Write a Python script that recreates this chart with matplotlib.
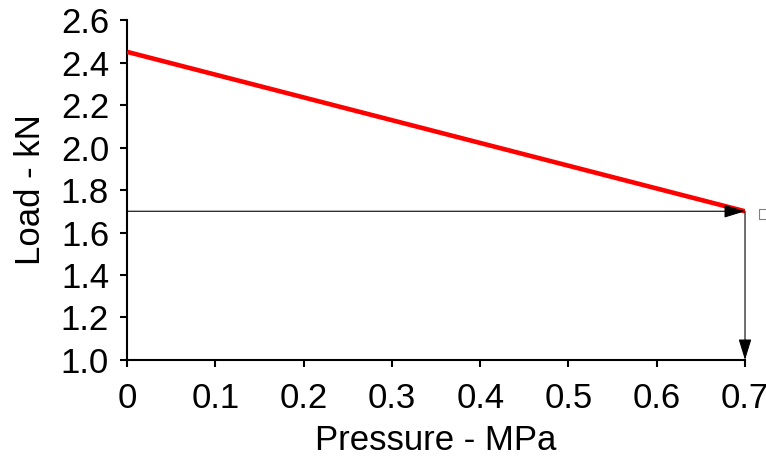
import matplotlib
matplotlib.use("Agg")
import matplotlib.pyplot as plt

pressure = [0.0, 0.7]
load = [2.45, 1.70]
x_ticks = [0, 0.1, 0.2, 0.3, 0.4, 0.5, 0.6, 0.7]
x_labels = ["0", "0.1", "0.2", "0.3", "0.4", "0.5", "0.6", "0.7"]
y_ticks = [1.0, 1.2, 1.4, 1.6, 1.8, 2.0, 2.2, 2.4, 2.6]
read_p = 0.7
read_load = 1.70

plt.rcParams["font.family"] = ["Liberation Sans", "DejaVu Sans"]

fig = plt.figure(figsize=(7.66, 4.59), dpi=100)
ax = fig.add_axes([0.166, 0.2157, 0.8066, 0.7407])

ax.plot(pressure, load, color="red", lw=3.3, solid_capstyle="butt", zorder=3)

# reading arrows
arrow = dict(arrowstyle="-|>,head_length=1.3,head_width=0.4",
             color="black", lw=0.8, shrinkA=0, shrinkB=0)
ax.annotate("", xy=(read_p, read_load), xytext=(0, read_load), arrowprops=arrow)
ax.annotate("", xy=(read_p, 1.0), xytext=(read_p, read_load), arrowprops=arrow)

# stray legend marker
ax.plot([0.721], [1.687], marker="s", ms=6.5, mfc="white", mec="gray",
        mew=0.8, clip_on=False)

ax.set_xlim(0, 0.7)
ax.set_ylim(1.0, 2.6)
ax.set_xticks(x_ticks)
ax.set_xticklabels(x_labels)
ax.set_yticks(y_ticks)
ax.set_yticklabels([f"{v:.1f}" for v in y_ticks])

for s in ["top", "right"]:
    ax.spines[s].set_visible(False)
for s in ["left", "bottom"]:
    ax.spines[s].set_linewidth(1.5)
ax.tick_params(direction="out", length=5, width=1.5, labelsize=25)
ax.tick_params(axis="x", pad=11)
ax.tick_params(axis="y", pad=8)

ax.set_xlabel("Pressure - MPa", fontsize=25, labelpad=6)
ax.set_ylabel("Load - kN", fontsize=25, labelpad=10)

fig.savefig("out.png", dpi=100)
